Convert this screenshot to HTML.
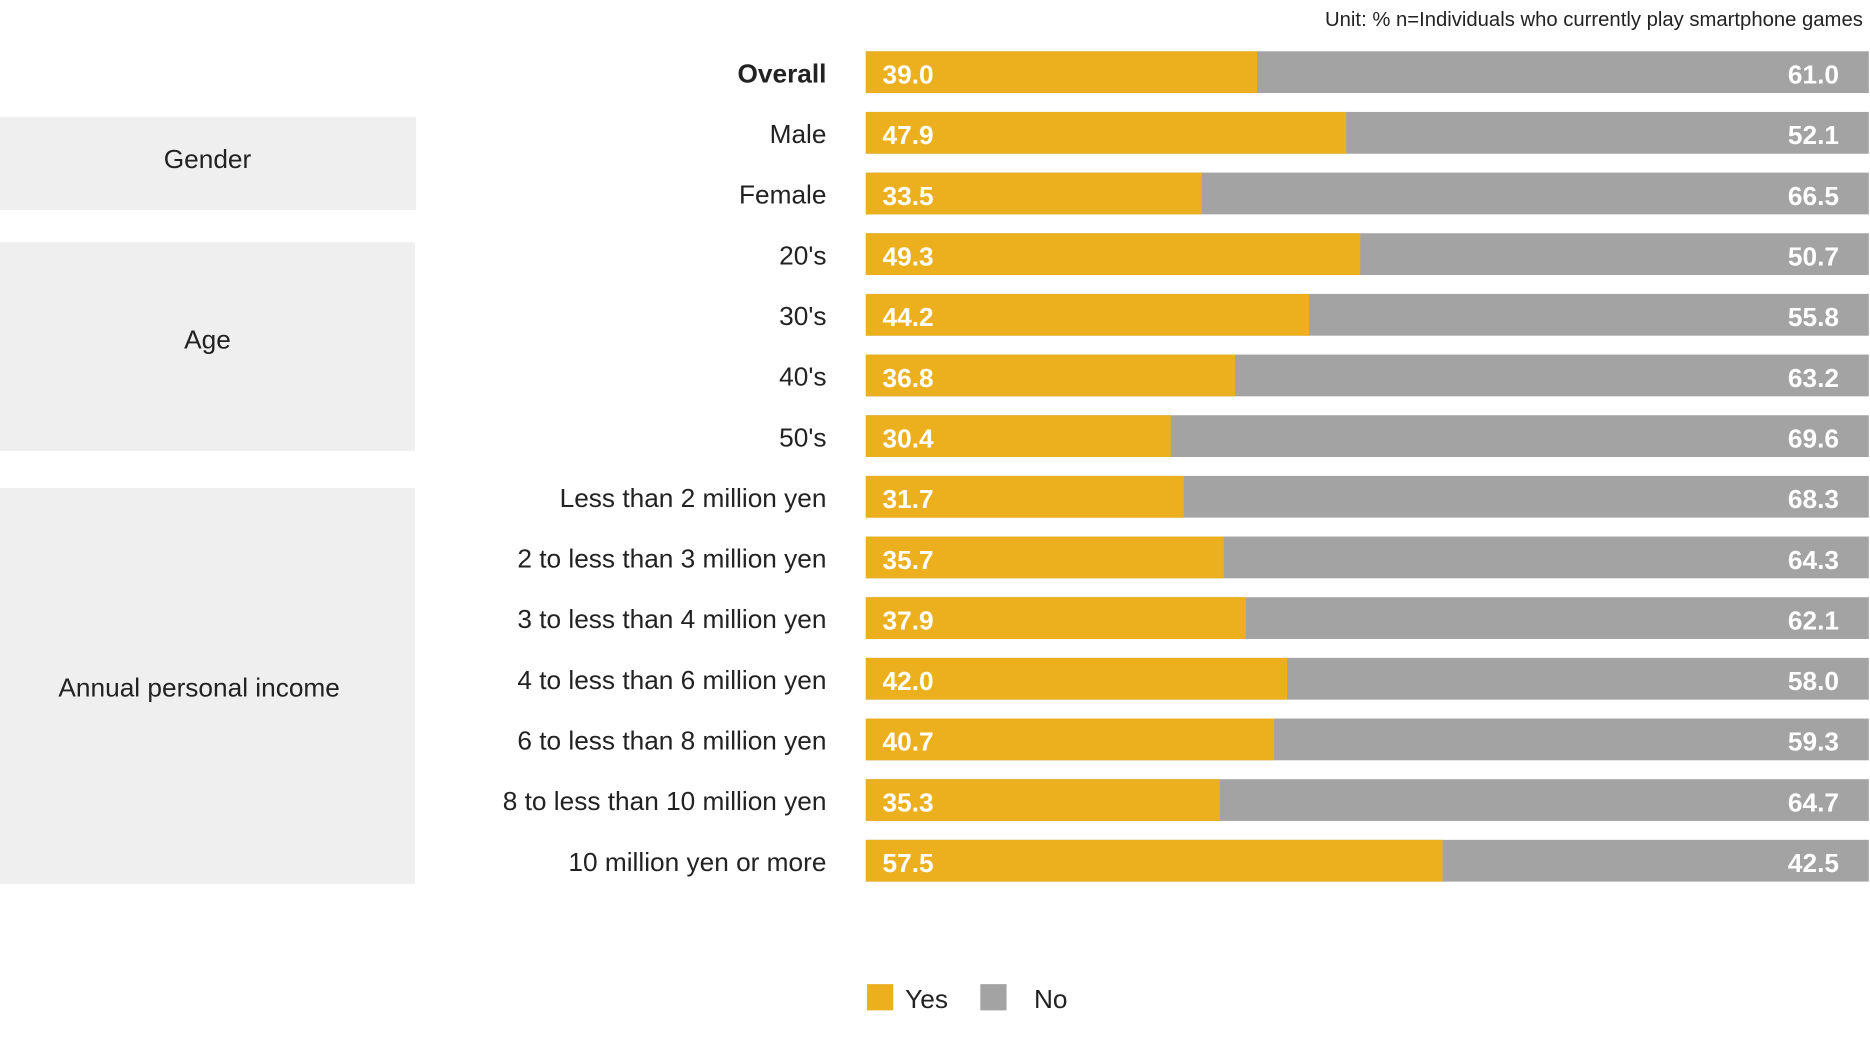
<!DOCTYPE html>
<html><head><meta charset="utf-8"><style>
html,body{margin:0;padding:0;background:#fff;}
svg{display:block;font-family:"Liberation Sans",sans-serif;}
.l{font-size:22px;fill:#222;text-anchor:end}
.v{font-size:22px;fill:#fff;font-weight:bold}
.r{font-size:22px;fill:#fff;font-weight:bold;text-anchor:end}
.g{fill:#a3a3a3}.y{fill:#ecb01f}
</style></head><body>
<svg width="1870" height="1039" viewBox="0 0 1568 871" preserveAspectRatio="none" xmlns="http://www.w3.org/2000/svg">
<rect width="1568" height="871" fill="#fff"/>
<text x="1562" y="22" font-size="17" text-anchor="end" fill="#222">Unit: %  n=Individuals who currently play smartphone games</text>
<rect x="0" y="98" width="349" height="78" fill="#eeefee"/>
<rect x="0" y="203" width="348" height="175" fill="#eeefee"/>
<rect x="0" y="409" width="348" height="332" fill="#eeefee"/>
<g font-size="22" fill="#222" text-anchor="middle">
<text x="174" y="141">Gender</text>
<text x="174" y="292">Age</text>
<text x="167" y="584">Annual personal income</text>
</g>

<rect class="g" x="726" y="43" width="841" height="35"/><rect class="y" x="726" y="43" width="328" height="35"/>
<text class="l" x="693" y="69" font-weight="bold">Overall</text><text class="v" x="740" y="70">39.0</text><text class="r" x="1542" y="70">61.0</text>

<rect class="g" x="726" y="93.85" width="841" height="35"/><rect class="y" x="726" y="93.85" width="402.8" height="35"/>
<text class="l" x="693" y="119.85">Male</text><text class="v" x="740" y="120.85">47.9</text><text class="r" x="1542" y="120.85">52.1</text>

<rect class="g" x="726" y="144.7" width="841" height="35"/><rect class="y" x="726" y="144.7" width="281.7" height="35"/>
<text class="l" x="693" y="170.7">Female</text><text class="v" x="740" y="171.7">33.5</text><text class="r" x="1542" y="171.7">66.5</text>

<rect class="g" x="726" y="195.55" width="841" height="35"/><rect class="y" x="726" y="195.55" width="414.6" height="35"/>
<text class="l" x="693" y="221.55">20's</text><text class="v" x="740" y="222.55">49.3</text><text class="r" x="1542" y="222.55">50.7</text>

<rect class="g" x="726" y="246.4" width="841" height="35"/><rect class="y" x="726" y="246.4" width="371.7" height="35"/>
<text class="l" x="693" y="272.4">30's</text><text class="v" x="740" y="273.4">44.2</text><text class="r" x="1542" y="273.4">55.8</text>

<rect class="g" x="726" y="297.25" width="841" height="35"/><rect class="y" x="726" y="297.25" width="309.5" height="35"/>
<text class="l" x="693" y="323.25">40's</text><text class="v" x="740" y="324.25">36.8</text><text class="r" x="1542" y="324.25">63.2</text>

<rect class="g" x="726" y="348.1" width="841" height="35"/><rect class="y" x="726" y="348.1" width="255.7" height="35"/>
<text class="l" x="693" y="374.1">50's</text><text class="v" x="740" y="375.1">30.4</text><text class="r" x="1542" y="375.1">69.6</text>

<rect class="g" x="726" y="398.95" width="841" height="35"/><rect class="y" x="726" y="398.95" width="266.6" height="35"/>
<text class="l" x="693" y="424.95">Less than 2 million yen</text><text class="v" x="740" y="425.95">31.7</text><text class="r" x="1542" y="425.95">68.3</text>

<rect class="g" x="726" y="449.8" width="841" height="35"/><rect class="y" x="726" y="449.8" width="300.2" height="35"/>
<text class="l" x="693" y="475.8">2 to less than 3 million yen</text><text class="v" x="740" y="476.8">35.7</text><text class="r" x="1542" y="476.8">64.3</text>

<rect class="g" x="726" y="500.65" width="841" height="35"/><rect class="y" x="726" y="500.65" width="318.7" height="35"/>
<text class="l" x="693" y="526.65">3 to less than 4 million yen</text><text class="v" x="740" y="527.65">37.9</text><text class="r" x="1542" y="527.65">62.1</text>

<rect class="g" x="726" y="551.5" width="841" height="35"/><rect class="y" x="726" y="551.5" width="353.2" height="35"/>
<text class="l" x="693" y="577.5">4 to less than 6 million yen</text><text class="v" x="740" y="578.5">42.0</text><text class="r" x="1542" y="578.5">58.0</text>

<rect class="g" x="726" y="602.35" width="841" height="35"/><rect class="y" x="726" y="602.35" width="342.3" height="35"/>
<text class="l" x="693" y="628.35">6 to less than 8 million yen</text><text class="v" x="740" y="629.35">40.7</text><text class="r" x="1542" y="629.35">59.3</text>

<rect class="g" x="726" y="653.2" width="841" height="35"/><rect class="y" x="726" y="653.2" width="296.9" height="35"/>
<text class="l" x="693" y="679.2">8 to less than 10 million yen</text><text class="v" x="740" y="680.2">35.3</text><text class="r" x="1542" y="680.2">64.7</text>

<rect class="g" x="726" y="704.05" width="841" height="35"/><rect class="y" x="726" y="704.05" width="483.6" height="35"/>
<text class="l" x="693" y="730.05">10 million yen or more</text><text class="v" x="740" y="731.05">57.5</text><text class="r" x="1542" y="731.05">42.5</text>

<rect x="727" y="825" width="22" height="22" fill="#ecb01f"/>
<text x="759" y="845" font-size="22" fill="#222">Yes</text>
<rect x="822" y="825" width="22" height="22" fill="#a3a3a3"/>
<text x="867" y="845" font-size="22" fill="#222">No</text>
</svg>
</body></html>
